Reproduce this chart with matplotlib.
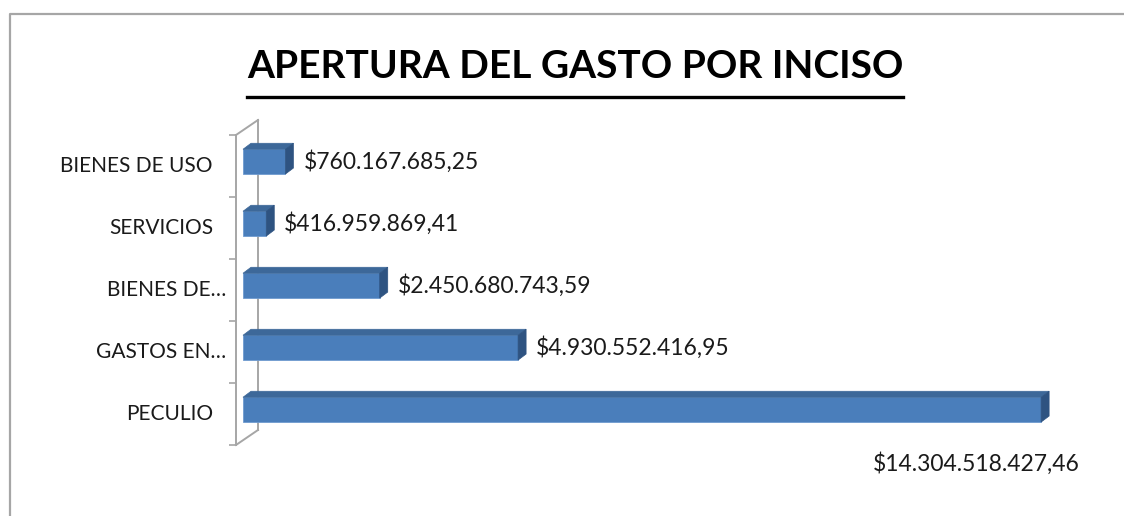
import matplotlib
matplotlib.use("Agg")
import matplotlib.pyplot as plt
from matplotlib.lines import Line2D
from matplotlib.patches import Polygon

plt.rcParams["font.family"] = ["Lato", "DejaVu Sans"]

TITLE = "APERTURA DEL GASTO POR INCISO"
categories = ["PECULIO", "GASTOS EN…", "BIENES DE…", "SERVICIOS", "BIENES DE USO"]
values = [14304518427.46, 4930552416.95, 2450680743.59, 416959869.41, 760167685.25]

FRONT = "#4a7ebb"
TOP = "#3d6899"
SIDE = "#2e5381"
GRID = "#a6a6a6"
TEXT = "#1a1a1a"

W, H = 1124, 516
DEPTH_X, DEPTH_Y = 8, 6      # bar depth in px
WALL_X, WALL_Y = 22, 15      # back wall offset in px
BAR_H = 0.40


def fmt_money(v: float) -> str:
    s = f"{v:,.2f}"
    return "$" + s.replace(",", "X").replace(".", ",").replace("X", ".")


fig = plt.figure(figsize=(W / 100, H / 100), dpi=100)
fig.patch.set_facecolor("white")

# plot area: x=0 at px 243, 55.8 px per 1e9
ax = fig.add_axes([236 / W, (H - 445) / H, (W - 236) / W, 310 / H])
ax.set_xlim(-0.1254e9, 15.79e9)
ax.set_ylim(-0.5, len(categories) - 0.5)
ax.set_facecolor("none")
for side in ("top", "right", "bottom"):
    ax.spines[side].set_visible(False)
ax.spines["left"].set_color(GRID)
ax.spines["left"].set_linewidth(1.4)
ax.set_xticks([])
ax.set_yticks([i - 0.5 for i in range(len(categories) + 1)])
ax.set_yticklabels([])
ax.tick_params(axis="y", length=5, width=1.2, color=GRID, direction="out")

fig.canvas.draw()
inv = ax.transData.inverted()
o = inv.transform((0, 0))
ddx, ddy = inv.transform((DEPTH_X, DEPTH_Y)) - o
wdx, wdy = inv.transform((WALL_X, WALL_Y)) - o

# back wall line + connectors
y0, y1 = -0.5, len(categories) - 0.5
x0 = ax.get_xlim()[0]
ax.plot([x0 + wdx, x0 + wdx], [y0 + wdy, y1 + wdy], color=GRID, lw=1.4, clip_on=False)
ax.plot([x0, x0 + wdx], [y1, y1 + wdy], color=GRID, lw=1.4, clip_on=False)
ax.plot([x0, x0 + wdx], [y0, y0 + wdy], color=GRID, lw=1.4, clip_on=False)

for i, (cat, val) in enumerate(zip(categories, values)):
    yc = i + 0.07
    yb, yt = yc - BAR_H / 2, yc + BAR_H / 2
    ax.barh(yc, val, height=BAR_H, left=0, color=FRONT, edgecolor="#6f9bd0", linewidth=0.6, zorder=3)
    ax.add_patch(Polygon([(0, yt), (val, yt), (val + ddx, yt + ddy), (ddx, yt + ddy)],
                         closed=True, facecolor=TOP, edgecolor=TOP, lw=0.5, zorder=3))
    ax.add_patch(Polygon([(val, yb), (val + ddx, yb + ddy), (val + ddx, yt + ddy), (val, yt)],
                         closed=True, facecolor=SIDE, edgecolor=SIDE, lw=0.5, zorder=3))

    # category label
    pad = -10 if cat.endswith("…") else -23
    ax.annotate(cat, xy=(x0, i), xytext=(pad * 0.72, 0), textcoords="offset points",
                ha="right", va="center", fontsize=15, color=TEXT, annotation_clip=False)

    # value label
    if val == max(values):
        ax.annotate(fmt_money(val), xy=(val, i), xytext=(39 * 0.72, -50 * 0.72),
                    textcoords="offset points", ha="right", va="center",
                    fontsize=16.5, color=TEXT, annotation_clip=False)
    else:
        ax.annotate(fmt_money(val), xy=(val, yc), xytext=(18 * 0.72, 0),
                    textcoords="offset points", ha="left", va="center",
                    fontsize=16.5, color=TEXT, annotation_clip=False)

# title with underline
title = fig.text(575 / W, 1 - 66 / H, TITLE, ha="center", va="center",
                 fontsize=28, fontweight="bold", color="black")
fig.canvas.draw()
bb = title.get_window_extent()
uy = (H - 97) / H
fig.add_artist(Line2D([bb.x0 / W, bb.x1 / W], [uy, uy], color="black", lw=2.4))

# outer chart frame
fig.add_artist(Line2D([10 / W, 10 / W, 1.0], [0.0, 1 - 14 / H, 1 - 14 / H], color=GRID, lw=1.6))

fig.savefig("out.png", dpi=100)
